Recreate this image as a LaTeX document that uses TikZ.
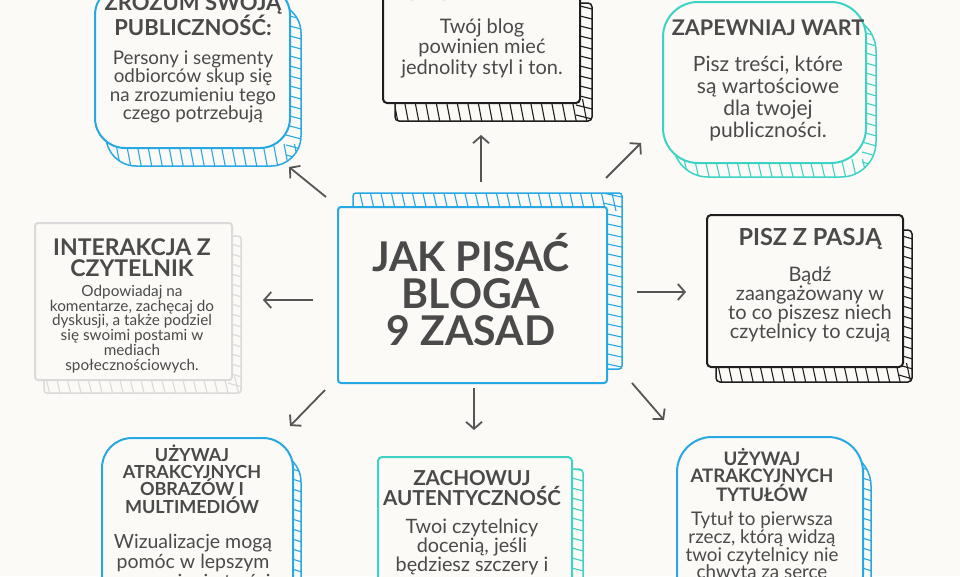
\documentclass[tikz,border=0pt]{standalone}
\usepackage{fontspec}
\setmainfont{Lato}
\usetikzlibrary{arrows.meta}
\definecolor{bg}{HTML}{FBFAF6}
\definecolor{cblue}{HTML}{27A8E3}
\definecolor{cteal}{HTML}{3DD3C4}
\definecolor{cblack}{HTML}{1E1E1E}
\definecolor{cgray}{HTML}{DADADA}
\definecolor{ctext}{HTML}{4A4A4A}
\definecolor{carrow}{HTML}{555555}

\newcommand{\mybox}[9]{%
 \pgfmathsetmacro\bxa{#2+#6}%
 \pgfmathsetmacro\bya{#3+#7}%
 \pgfmathsetmacro\bxb{#4+#6}%
 \pgfmathsetmacro\byb{#5+#7}%
 \pgfmathsetmacro\vya{#7>0 ? #5-4 : \bya-4}%
 \pgfmathsetmacro\vyb{#7>0 ? \byb+4 : #3+4}%
 \pgfmathsetmacro\hya{min(\bya,#3)}%
 \pgfmathsetmacro\hyb{max(\byb,#5)}%
 \pgfmathsetmacro\hyc{\hya+10}%
 \pgfmathsetmacro\vxa{min(\bxa,#2)}%
 \pgfmathsetmacro\vxc{\vxa+10.5}%
 \draw[draw=#8, line width=1.5pt, rounded corners=#9, fill=bg] (\bxa,\bya) rectangle (\bxb,\byb);
 \begin{scope}
  \clip[rounded corners=#9] (\bxa,\bya) rectangle (\bxb,\byb);
  \foreach \yy in {\hya,\hyc,...,\hyb} \draw[#8, line width=1.1pt] (#4-4,\yy) -- (\bxb+4,\yy+5);
  \foreach \xx in {\vxa,\vxc,...,\bxb} \draw[#8, line width=1.1pt] (\xx,\vya) -- (\xx+5,\vyb);
 \end{scope}
 \node[draw=#8, line width=2pt, rounded corners=#9, fill=bg, minimum width={#4-#2}, minimum height={#5-#3}, inner sep=0pt] (#1) at ({(#2+#4)/2},{(#3+#5)/2}) {};
}
\newcommand{\fsz}[2]{\fontsize{#1}{#2}\selectfont}

\begin{document}
\begin{tikzpicture}[x=1pt,y=-1pt,
  hd/.style={text=ctext, align=center, inner sep=0pt},
  bd/.style={text=ctext, align=center, inner sep=0pt},
  arr/.style={draw=carrow, line width=1.8pt, -{Straight Barb[length=7pt,width=16pt,line width=1.8pt]}}]
\fill[bg] (0,0) rectangle (960,576);
\useasboundingbox (0,0) rectangle (960,576);

% boxes
\mybox{tl}{95}{-15}{290}{148}{11}{18}{cblue}{30pt}
\mybox{tc}{383}{-15}{580}{103}{12}{18}{cblack}{4pt}
\mybox{tr}{663}{2}{866}{163}{10}{14}{cteal}{35pt}
\mybox{lf}{35}{223}{232}{380}{9}{13}{cgray}{3pt}
\mybox{ce}{338}{207}{607}{383}{15}{-14}{cblue}{3pt}
\mybox{rt}{707}{215}{903}{367}{9}{15}{cblack}{4pt}
\mybox{bl}{102}{438}{293}{610}{8}{14}{cblue}{30pt}
\mybox{bc}{378}{457}{572}{610}{11}{12}{cteal}{4pt}
\mybox{br}{677}{437}{863}{610}{8}{14}{cblue}{35pt}

% texts
\node[hd, font=\fsz{22}{20}\bfseries] (tlh) at (193,15) {ZROZUM SWOJĄ\\PUBLICZNOŚĆ:};
\node[bd, font=\fsz{18.8}{18.5}] (tlb) at (193,87) {Persony i segmenty\\odbiorców skup się\\na zrozumieniu tego\\czego potrzebują};

\node[hd, font=\fsz{22}{20}\bfseries] (tch) at (482,-7) {KONSEKWENTNY};
\node[bd, font=\fsz{20}{20.5}] (tcb) at (482,48) {Twój blog\\powinien mieć\\jednolity styl i ton.};

\node[hd, font=\fsz{21.6}{20}\bfseries] (trh) at (768,28) {ZAPEWNIAJ WART};
\node[bd, font=\fsz{21}{22}] (trb) at (768,98.5) {Pisz treści, które\\są wartościowe\\dla twojej\\publiczności.};

\node[hd, font=\fsz{23}{21}\bfseries] (lfh) at (132,257.5) {INTERAKCJA Z\\CZYTELNIK};
\node[bd, font=\fsz{15.3}{14.8}] (lfb) at (132,329) {Odpowiadaj na\\komentarze, zachęcaj do\\dyskusji, a także podziel\\się swoimi postami w\\mediach\\społecznościowych.};

\node[hd, font=\fsz{41}{37}\bfseries] (ceh) at (471,290) {JAK PISAĆ\\BLOGA\\9 ZASAD};

\node[hd, font=\fsz{23.5}{21}\bfseries] (rth) at (810,239) {PISZ Z PASJĄ};
\node[bd, font=\fsz{20}{19}] (rtb) at (810,304) {Bądź\\zaangażowany w\\to co piszesz niech\\czytelnicy to czują};

\node[hd, font=\fsz{18}{17.2}\bfseries] (blh) at (192,479) {UŻYWAJ\\ATRAKCYJNYCH\\OBRAZÓW I\\MULTIMEDIÓW};
\node[bd, font=\fsz{19.5}{20}] (blb) at (193,561) {Wizualizacje mogą\\pomóc w lepszym\\zrozumieniu treści};

\node[hd, font=\fsz{20.6}{20.5}\bfseries] (bch) at (472,488) {ZACHOWUJ\\AUTENTYCZNOŚĆ};
\node[bd, font=\fsz{19.8}{19}] (bcb) at (472,547) {Twoi czytelnicy\\docenią, jeśli\\będziesz szczery i};

\node[hd, font=\fsz{18.6}{17.4}\bfseries] (brh) at (762,475) {UŻYWAJ\\ATRAKCYJNYCH\\TYTUŁÓW};
\node[bd, font=\fsz{18.8}{17.7}] (brb) at (762,547) {Tytuł to pierwsza\\rzecz, którą widzą\\twoi czytelnicy nie\\chwyta za serce};

% arrow end points
\coordinate (a1s) at (481,182); \coordinate (a1e) at (481,135);
\coordinate (a2s) at (326,197); \coordinate (a2e) at (289,167);
\coordinate (a3s) at (606,178); \coordinate (a3e) at (641,143);
\coordinate (a4s) at (313,300); \coordinate (a4e) at (263,300);
\coordinate (a5s) at (637,292); \coordinate (a5e) at (686,292);
\coordinate (a6s) at (325,390); \coordinate (a6e) at (290,426);
\coordinate (a7s) at (474,388); \coordinate (a7e) at (474,430);
\coordinate (a8s) at (632,383); \coordinate (a8e) at (664,420);
\foreach \i in {1,...,8} \draw[arr] (a\i s) -- (a\i e);
\end{tikzpicture}
\end{document}
